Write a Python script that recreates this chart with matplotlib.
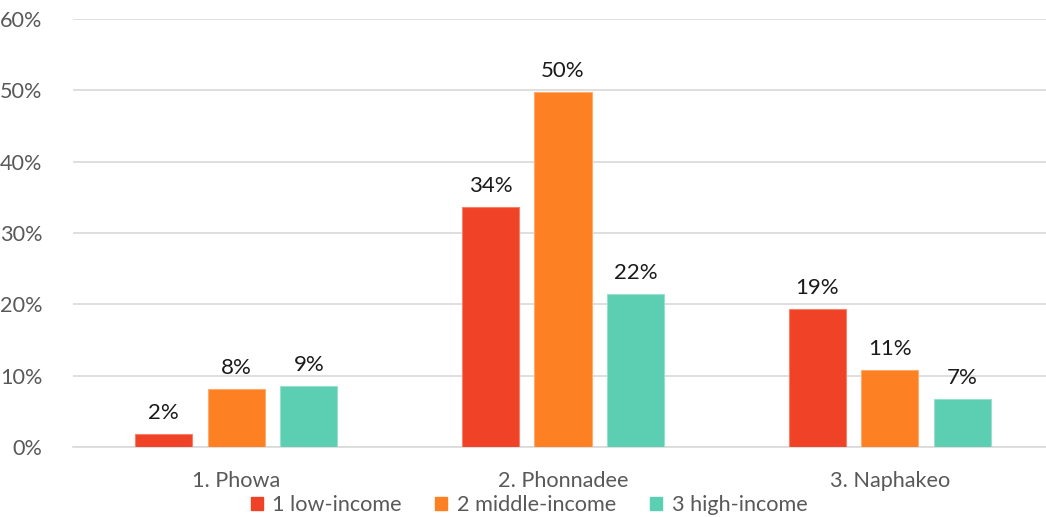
import matplotlib.pyplot as plt
from matplotlib.patches import Patch
import numpy as np

plt.rcParams['font.family'] = ['Lato', 'DejaVu Sans']

categories = ["1. Phowa", "2. Phonnadee", "3. Naphakeo"]
series_names = ["1 low-income", "2 middle-income", "3 high-income"]
low_income = [1.8, 33.6, 19.3]
middle_income = [8.1, 49.7, 10.8]
high_income = [8.6, 21.5, 6.7]
y_ticks = [0, 10, 20, 30, 40, 50, 60]

series = [low_income, middle_income, high_income]
colors = ["#EF4226", "#FD8022", "#5CCEB1"]
edges = ["#F7806A", "#FEAC6E", "#97E0CC"]

fig = plt.figure(figsize=(10.46, 5.17), dpi=100)
ax = fig.add_axes([73 / 1046, 70 / 517, 980 / 1046, 428 / 517])

x = np.arange(len(categories))
width = 0.175
step = 0.222
for i, (vals, col, ec) in enumerate(zip(series, colors, edges)):
    pos = x + (i - 1) * step
    bars = ax.bar(pos, vals, width, color=col, edgecolor=ec, linewidth=0.8, zorder=3)
    for b, v in zip(bars, vals):
        ax.annotate(f"{v:.0f}%", (b.get_x() + b.get_width() / 2, v),
                    xytext=(0, 8), textcoords="offset points",
                    ha="center", va="bottom", fontsize=16, color="#1a1a1a")

ax.set_xlim(-0.5, 2.5)
ax.set_ylim(0, 60)
ax.set_yticks(y_ticks)
ax.set_yticklabels([f"{t}%" for t in y_ticks])
ax.set_xticks(x)
ax.set_xticklabels(categories)
ax.tick_params(axis='both', length=0, labelsize=15.6, colors="#595959")
ax.tick_params(axis='y', pad=22)
ax.tick_params(axis='x', pad=17)
ax.yaxis.grid(True, color="#D9D9D9", linewidth=1.2, zorder=0)
for s in ["top", "right", "left"]:
    ax.spines[s].set_visible(False)
ax.spines["bottom"].set_color("#D9D9D9")
ax.spines["bottom"].set_linewidth(1.2)

handles = [Patch(facecolor=c, edgecolor=c) for c in colors]
fig.legend(handles, series_names, loc="center", bbox_to_anchor=(529 / 1046, 1 - 505 / 517),
           ncol=3, frameon=False, fontsize=15.6, labelcolor="#595959",
           handlelength=0.55, handleheight=0.55, handletextpad=0.45, columnspacing=1.55,
           borderpad=0, borderaxespad=0)

fig.savefig("out.png", dpi=100)
